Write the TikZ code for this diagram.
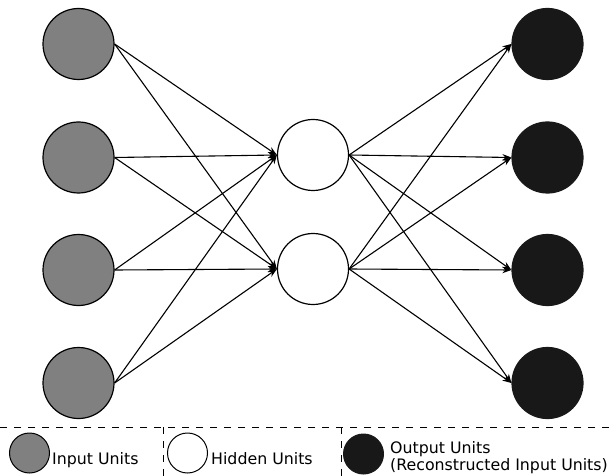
\documentclass[tikz,border=0pt]{standalone}
\usepackage{fontspec}
\setmainfont{DejaVu Sans}
\usetikzlibrary{arrows.meta}
\definecolor{inputgray}{HTML}{808080}
\definecolor{outputblack}{HTML}{181818}
\begin{document}
\begin{tikzpicture}[x=1pt,y=-1pt,
  unit/.style={circle,draw=black,line width=1.2pt,minimum size=71pt,inner sep=0pt},
  inunit/.style={unit,fill=inputgray},
  hidunit/.style={unit,fill=white},
  outunit/.style={unit,fill=outputblack,draw=outputblack},
  legunit/.style={circle,draw=black,line width=1pt,minimum size=40pt,inner sep=0pt},
  conn/.style={line width=1.1pt,-{Stealth[length=9pt,width=6.5pt]}},
  sep/.style={line width=1pt,dash pattern=on 7pt off 7pt},
  legtext/.style={anchor=base west,inner sep=0pt,font=\fontsize{15.8}{17}\selectfont}]
\useasboundingbox (0,0) rectangle (616,476);

% input layer
\node[inunit] (i1) at (78.5,44) {};
\node[inunit] (i2) at (78.5,157.5) {};
\node[inunit] (i3) at (78.5,270) {};
\node[inunit] (i4) at (78.5,383) {};
% hidden layer
\node[hidunit] (h1) at (313,155) {};
\node[hidunit] (h2) at (313,269) {};
% output layer
\node[outunit] (o1) at (547.5,44) {};
\node[outunit] (o2) at (547.5,157.5) {};
\node[outunit] (o3) at (547.5,270) {};
\node[outunit] (o4) at (547.5,383) {};

% encoder and decoder connections
\foreach \i in {1,...,4}{
  \foreach \h in {1,2}{
    \draw[conn] (i\i.east) -- (h\h.west);
    \draw[conn] (h\h.east) -- (o\i.west);
  }
}

% legend frame
\coordinate (ll) at (0,427);
\coordinate (lr) at (616,427);
\coordinate (s1t) at (163,427);
\coordinate (s1b) at (163,476);
\coordinate (s2t) at (341,427);
\coordinate (s2b) at (341,476);
\draw[sep] (ll) -- (lr);
\draw[sep] (s1t) -- (s1b);
\draw[sep] (s2t) -- (s2b);

% legend entries
\node[legunit,fill=inputgray] (li) at (29.5,453) {};
\node[legtext] (lit) at (52,464) {Input Units};
\node[legunit,fill=white] (lh) at (187.5,453) {};
\node[legtext] (lht) at (211,464) {Hidden Units};
\node[legunit,fill=outputblack,draw=outputblack] (lo) at (363.5,454) {};
\node[legtext] (lot1) at (390,453) {Output Units};
\node[legtext] (lot2) at (390,470) {(Reconstructed Input Units)};
\end{tikzpicture}
\end{document}
